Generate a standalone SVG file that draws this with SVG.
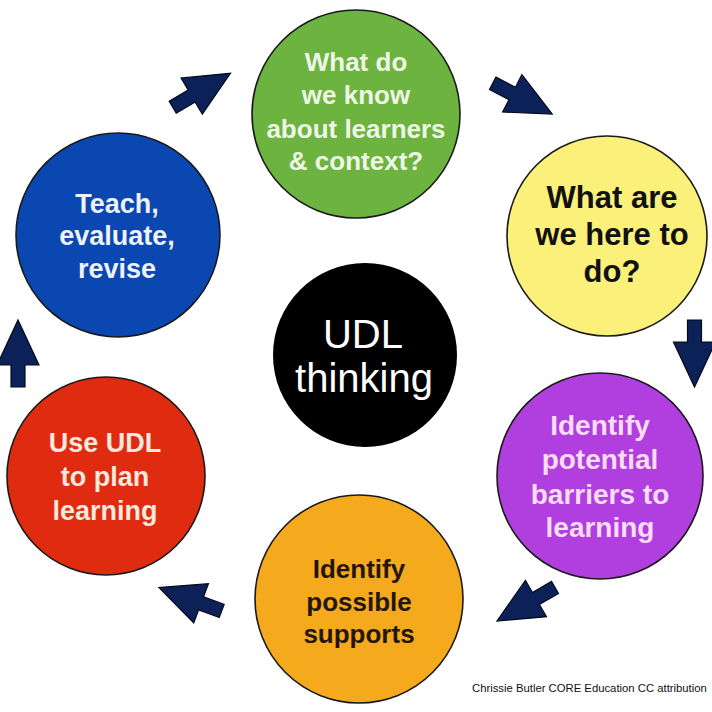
<svg xmlns="http://www.w3.org/2000/svg" xmlns:xlink="http://www.w3.org/1999/xlink" width="712" height="712" viewBox="0 0 712 712">
<style>
.c{stroke:#1a1a1a;stroke-width:1.6}
.t{font-family:"Liberation Sans",Arial,Helvetica,sans-serif;font-weight:bold;text-anchor:middle}
.a{fill:#0c2157;stroke:#050a1a;stroke-width:1.2;stroke-linejoin:miter}
.cr{font-family:"Liberation Sans",Arial,sans-serif;font-size:11.3px;fill:#111}
</style>
<defs>
<path id="arr" d="M0,-7 L22,-7 L22,-21 L67,0 L22,21 L22,7 L0,7 Z"/>
</defs>
<rect width="712" height="712" fill="#ffffff"/>
<g id="connectors">
<use xlink:href="#arr" href="#arr" class="a" transform="translate(172.7,107.2) rotate(-30.4)"/>
<use xlink:href="#arr" href="#arr" class="a" transform="translate(492.7,83.3) rotate(27.3)"/>
<use xlink:href="#arr" href="#arr" class="a" transform="translate(694.5,320) rotate(90)"/>
<use xlink:href="#arr" href="#arr" class="a" transform="translate(555,587.5) rotate(150)"/>
<use xlink:href="#arr" href="#arr" class="a" transform="translate(221.7,611) rotate(200.5)"/>
<use xlink:href="#arr" href="#arr" class="a" transform="translate(18,387) rotate(-90)"/>
</g>
<g id="node-know">
<circle class="c" cx="356" cy="114" r="104" fill="#6db33f"/>
<text class="t" font-size="26" fill="#eef7e6"><tspan x="356" y="71">What do</tspan><tspan x="356" y="104">we know</tspan><tspan x="356" y="138">about learners</tspan><tspan x="356" y="170">&amp; context?</tspan></text>
</g>
<g id="node-here">
<circle class="c" cx="607" cy="236" r="100" fill="#fbf07a"/>
<text class="t" font-size="31" fill="#111"><tspan x="612" y="208">What are</tspan><tspan x="612" y="245">we here to</tspan><tspan x="612" y="282">do?</tspan></text>
</g>
<g id="node-barriers">
<circle class="c" cx="600" cy="476" r="103" fill="#b13fe0"/>
<text class="t" font-size="28" fill="#f9dcf7"><tspan x="600" y="435">Identify</tspan><tspan x="600" y="469">potential</tspan><tspan x="600" y="504">barriers to</tspan><tspan x="600" y="537">learning</tspan></text>
</g>
<g id="node-supports">
<circle class="c" cx="359" cy="599" r="104" fill="#f5a91d"/>
<text class="t" font-size="26" fill="#24160a"><tspan x="359" y="578">Identify</tspan><tspan x="359" y="611">possible</tspan><tspan x="359" y="643">supports</tspan></text>
</g>
<g id="node-plan">
<circle class="c" cx="106" cy="476" r="99" fill="#df2b0f"/>
<text class="t" font-size="27" fill="#f8e8de"><tspan x="105" y="452">Use UDL</tspan><tspan x="105" y="486">to plan</tspan><tspan x="105" y="520">learning</tspan></text>
</g>
<g id="node-teach">
<circle class="c" cx="118" cy="235" r="102" fill="#0b47b0"/>
<text class="t" font-size="27" fill="#eef2fa"><tspan x="117" y="213">Teach,</tspan><tspan x="117" y="245">evaluate,</tspan><tspan x="117" y="278">revise</tspan></text>
</g>
<g id="node-udl">
<circle cx="365" cy="355" r="92" fill="#000"/>
<text font-family="'Liberation Sans',Arial,Helvetica,sans-serif" font-size="40" fill="#fff" text-anchor="middle"><tspan x="363" y="348">UDL</tspan><tspan x="364" y="392">thinking</tspan></text>
</g>
<text class="cr" x="472" y="692">Chrissie Butler CORE Education CC attribution</text>
</svg>
